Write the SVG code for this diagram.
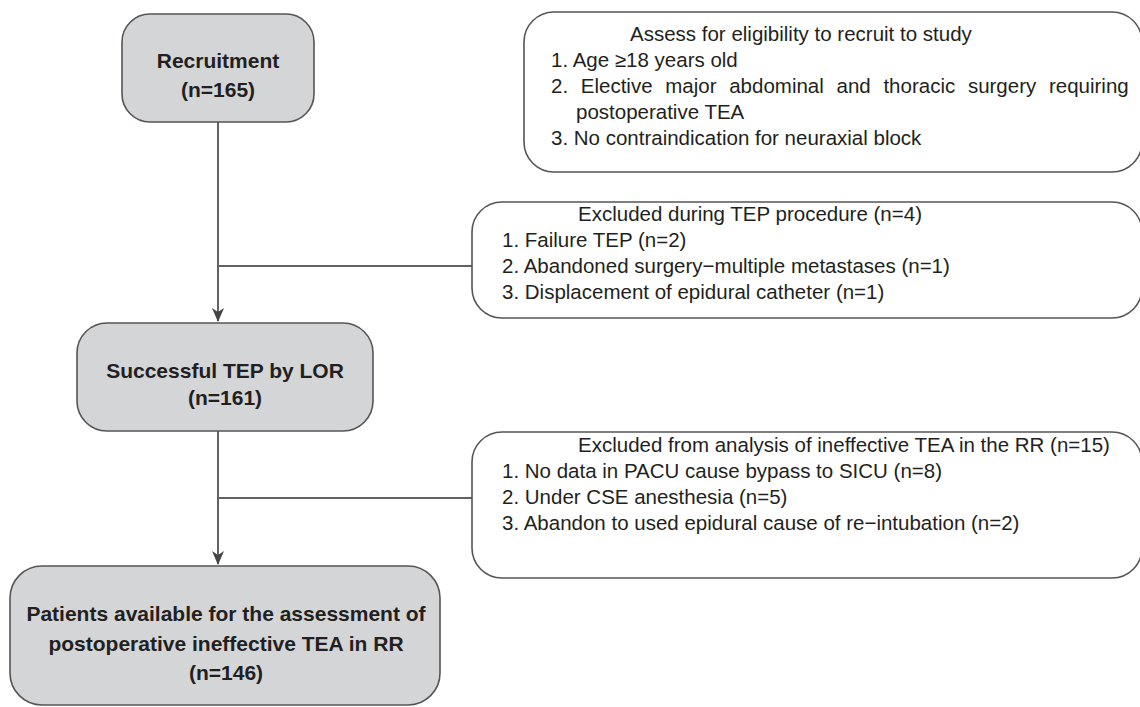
<svg xmlns="http://www.w3.org/2000/svg" width="1140" height="707" viewBox="0 0 1140 707">
<defs>
<style>
.gbox{fill:#d4d5d7;stroke:#555555;stroke-width:1.6}
.wbox{fill:#ffffff;stroke:#555555;stroke-width:1.6}
.bt{font-family:"Liberation Sans",Arial,sans-serif;font-weight:bold;font-size:21px;fill:#231f20;text-anchor:middle}
.rt{font-family:"Liberation Sans",Arial,sans-serif;font-size:20.5px;fill:#231f20}
.ln{stroke:#626262;stroke-width:2;fill:none}
</style>
<marker id="arr" markerWidth="14" markerHeight="16" refX="13" refY="6" orient="auto" markerUnits="userSpaceOnUse">
<path d="M0,0 L14,6 L0,12 L4,6 Z" fill="#444444"/>
</marker>
</defs>
<rect width="1140" height="707" fill="#ffffff"/>
<g id="connectors">
<line class="ln" x1="218" y1="122" x2="218" y2="321" marker-end="url(#arr)"/>
<line class="ln" x1="218" y1="266" x2="472" y2="266"/>
<line class="ln" x1="218" y1="431" x2="218" y2="564" marker-end="url(#arr)"/>
<line class="ln" x1="218" y1="498" x2="472" y2="498"/>
</g>
<g id="recruitment">
<rect class="gbox" x="122" y="14" width="192" height="108" rx="28"/>
<text class="bt" x="218" y="68">Recruitment</text>
<text class="bt" x="218" y="97">(n=165)</text>
</g>
<g id="successful">
<rect class="gbox" x="77" y="323" width="296" height="108" rx="30"/>
<text class="bt" x="225" y="378">Successful TEP by LOR</text>
<text class="bt" x="225" y="405">(n=161)</text>
</g>
<g id="patients">
<rect class="gbox" x="10" y="566" width="430" height="139" rx="32"/>
<text class="bt" x="226" y="621">Patients available for the assessment of</text>
<text class="bt" x="226" y="651">postoperative ineffective TEA in RR</text>
<text class="bt" x="226" y="680">(n=146)</text>
</g>
<g id="eligibility">
<rect class="wbox" x="524" y="12" width="618" height="160" rx="30"/>
<text class="rt" x="630" y="41">Assess for eligibility to recruit to study</text>
<text class="rt" x="551" y="67">1. Age ≥18 years old</text>
<text class="rt" x="551" y="93" word-spacing="7">2. Elective major abdominal and thoracic surgery requiring</text>
<text class="rt" x="576" y="119">postoperative TEA</text>
<text class="rt" x="551" y="145">3. No contraindication for neuraxial block</text>
</g>
<g id="excluded-tep">
<rect class="wbox" x="472" y="202" width="670" height="116" rx="30"/>
<text class="rt" x="578" y="221">Excluded during TEP procedure (n=4)</text>
<text class="rt" x="502" y="247">1. Failure TEP (n=2)</text>
<text class="rt" x="502" y="273">2. Abandoned surgery−multiple metastases (n=1)</text>
<text class="rt" x="502" y="299">3. Displacement of epidural catheter (n=1)</text>
</g>
<g id="excluded-analysis">
<rect class="wbox" x="472" y="432" width="670" height="146" rx="30"/>
<text class="rt" x="578" y="452">Excluded from analysis of ineffective TEA in the RR (n=15)</text>
<text class="rt" x="502" y="478">1. No data in PACU cause bypass to SICU (n=8)</text>
<text class="rt" x="502" y="504">2. Under CSE anesthesia (n=5)</text>
<text class="rt" x="502" y="530">3. Abandon to used epidural cause of re−intubation (n=2)</text>
</g>
</svg>
